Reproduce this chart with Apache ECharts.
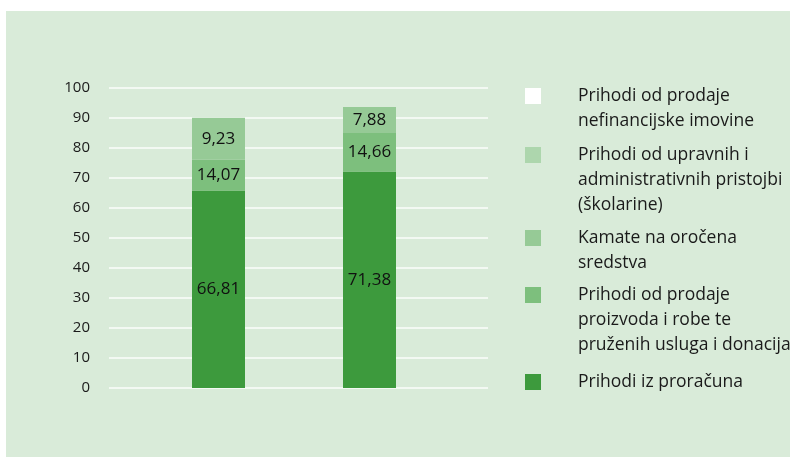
<!DOCTYPE html>
<html>
<head>
<meta charset="utf-8">
<script src="https://cdn.jsdelivr.net/npm/echarts@6/dist/echarts.min.js"></script>
<style>
    html, body { margin: 0; padding: 0; background: #ffffff; }
    #chart { position: absolute; left: 6px; top: 11px; width: 784px; height: 446px; }
</style>
</head>
<body>
<div id="chart"></div>
<script>
// kategorije (stupci bez natpisa)
var categories = ['Stupac 1', 'Stupac 2'];

// visine segmenata ocitane sa slike (%)
var prihodiProracun = [65.8, 72.2];
var prihodiProizvodi = [10.3, 12.8];
var kamate = [14.0, 8.7];
var prihodiPristojbe = [0, 0];
var prihodiNefinancijska = [0, 0];

// natpisi kako su ispisani na stupcima
var natpisProracun = ['66,81', '71,38'];
var natpisProizvodi = ['14,07', '14,66'];
var natpisKamate = ['9,23', '7,88'];

var yTicks = [0, 10, 20, 30, 40, 50, 60, 70, 80, 90, 100];

var seriesNames = [
    'Prihodi od prodaje\nnefinancijske imovine',
    'Prihodi od upravnih i\nadministrativnih pristojbi\n(školarine)',
    'Kamate na oročena\nsredstva',
    'Prihodi od prodaje\nproizvoda i robe te\npruženih usluga i donacija',
    'Prihodi iz proračuna'
];
var seriesColors = ['#ffffff', '#add6ad', '#96ca96', '#7dbf7d', '#3d9a3d'];

// odozdo prema gore
var stackData = [prihodiProracun, prihodiProizvodi, kamate, prihodiPristojbe, prihodiNefinancijska];
var stackLabels = [natpisProracun, natpisProizvodi, natpisKamate, [], []];
var stackNames = [seriesNames[4], seriesNames[3], seriesNames[2], seriesNames[1], seriesNames[0]];
var stackColors = [seriesColors[4], seriesColors[3], seriesColors[2], seriesColors[1], seriesColors[0]];

var font = '"Open Sans", "Noto Sans", sans-serif';
var chart = echarts.init(document.getElementById('chart'));

var series = stackData.map(function (d, i) {
    return {
        name: stackNames[i],
        type: 'bar',
        stack: 'ukupno',
        xAxisIndex: 1,
        yAxisIndex: 1,
        barWidth: 53,
        data: d,
        itemStyle: { color: stackColors[i] },
        label: {
            show: true,
            position: 'inside',
            color: '#111111',
            fontFamily: font,
            fontSize: 17,
            formatter: function (p) {
                return stackLabels[i][p.dataIndex] || '';
            }
        }
    };
});

// legenda: ikona poravnata s prvim retkom teksta
var legendIconTops = [77, 136, 219, 276, 363];
var lh = 25;
var legends = seriesNames.map(function (name, i) {
    var n = name.split('\n').length;
    return {
        data: [name],
        orient: 'vertical',
        left: 519,
        top: legendIconTops[i] + 8 - (2 * n - 1) * lh / 2,
        padding: 0,
        icon: 'rect',
        itemWidth: 16,
        itemHeight: 16,
        selectedMode: false,
        formatter: function (nm) {
            return new Array(n).join('\n') + nm;
        },
        textStyle: {
            color: '#1a1a1a',
            fontFamily: font,
            fontSize: 17.5,
            lineHeight: lh,
            padding: [0, 0, 0, 32]
        }
    };
});

var option = {
    backgroundColor: '#d9ebd9',
    animation: false,
    legend: legends,
    grid: [
        { left: 103, right: 302, top: 77, bottom: 69 },
        { left: 137, right: 345, top: 77, bottom: 69 }
    ],
    xAxis: [
        { type: 'category', gridIndex: 0, data: categories, show: false },
        { type: 'category', gridIndex: 1, data: categories, show: false }
    ],
    yAxis: [
        {
            type: 'value', gridIndex: 0, min: yTicks[0], max: yTicks[yTicks.length - 1], interval: 10,
            axisLine: { show: false },
            axisTick: { show: false },
            axisLabel: { color: '#1a1a1a', fontFamily: font, fontSize: 15, margin: 19 },
            splitLine: { lineStyle: { color: '#f3f9f3', width: 2 } }
        },
        {
            type: 'value', gridIndex: 1, min: yTicks[0], max: yTicks[yTicks.length - 1], interval: 10,
            show: false,
            splitLine: { show: false }
        }
    ],
    series: series
};
chart.setOption(option);
</script>
</body>
</html>
